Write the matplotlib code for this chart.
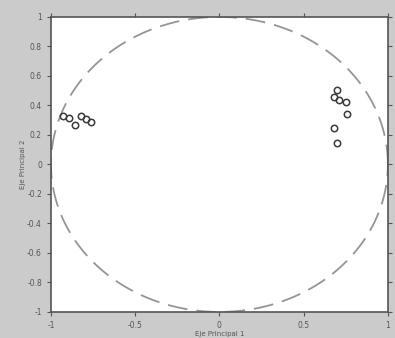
import numpy as np
import matplotlib
matplotlib.use('Agg')
import matplotlib.pyplot as plt

# Coordenadas de las variables sobre los ejes principales
x_izq = [-0.93, -0.89, -0.86, -0.82, -0.79, -0.76]
y_izq = [0.33, 0.315, 0.27, 0.33, 0.31, 0.29]
x_der = [0.70, 0.68, 0.71, 0.75, 0.76, 0.68, 0.70]
y_der = [0.505, 0.46, 0.44, 0.425, 0.34, 0.25, 0.145]

xticks = [-1, -0.5, 0, 0.5, 1]
yticks = [-1, -0.8, -0.6, -0.4, -0.2, 0, 0.2, 0.4, 0.6, 0.8, 1]

fig = plt.figure(figsize=(3.95, 3.38), dpi=100, facecolor='#cbcbcb')
ax = fig.add_axes([0.129, 0.077, 0.853, 0.873])
ax.set_facecolor('white')

# Circulo de correlaciones
t = np.linspace(0, 2 * np.pi, 400)
ax.plot(np.cos(t), np.sin(t), color='#959595', linestyle=(0, (11, 5)), linewidth=1.3)

ax.plot(x_izq, y_izq, 'o', markerfacecolor='none', markeredgecolor='#3a3a3a',
        markersize=4.6, markeredgewidth=1.1)
ax.plot(x_der, y_der, 'o', markerfacecolor='none', markeredgecolor='#3a3a3a',
        markersize=4.6, markeredgewidth=1.1)

ax.set_xlim(-1, 1)
ax.set_ylim(-1, 1)
ax.set_xticks(xticks)
ax.set_yticks(yticks)
ax.set_xticklabels([str(v) for v in xticks])
ax.set_yticklabels([str(v) for v in yticks])
ax.tick_params(labelsize=5.5, colors='#555555', length=3, direction='out', top=True, right=True,
               labeltop=False, labelright=False)
for s in ax.spines.values():
    s.set_color('#555555')
    s.set_linewidth(1.2)

ax.set_xlabel('Eje Principal 1', fontsize=5, color='#555555', labelpad=1)
ax.set_ylabel('Eje Principal 2', fontsize=5, color='#555555', labelpad=1)

plt.savefig('out.png', dpi=100, facecolor=fig.get_facecolor())
